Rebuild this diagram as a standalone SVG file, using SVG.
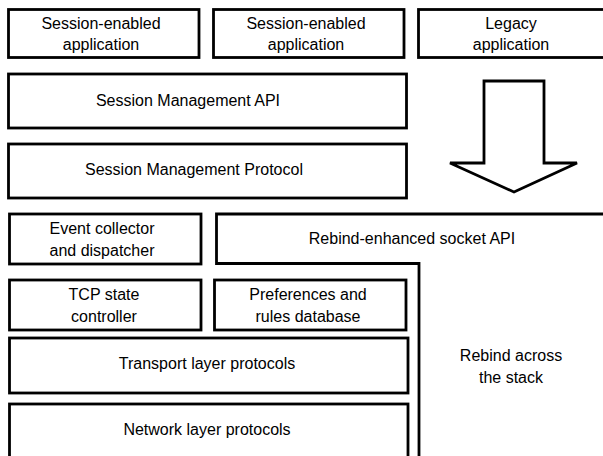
<svg xmlns="http://www.w3.org/2000/svg" width="603" height="456" viewBox="0 0 603 456">
<style>
  .box { fill: #fff; stroke: #000; stroke-width: 2.8; }
  .line { fill: none; stroke: #000; stroke-width: 2.8; }
  text { font-family: "Liberation Sans", Arial, sans-serif; font-size: 16px; fill: #000; text-anchor: middle; }
</style>
<rect width="603" height="456" fill="#fff"/>
<g id="app1">
  <rect class="box" x="8.5" y="9.5" width="190.5" height="48"/>
  <text x="101" y="28.5">Session-enabled</text>
  <text x="101" y="50">application</text>
</g>
<g id="app2">
  <rect class="box" x="213.5" y="9.5" width="190.5" height="48"/>
  <text x="306" y="28.5">Session-enabled</text>
  <text x="306" y="50">application</text>
</g>
<g id="legacy">
  <rect class="box" x="418.5" y="9.5" width="200" height="48"/>
  <text x="511" y="28.5">Legacy</text>
  <text x="511" y="50">application</text>
</g>
<g id="sm-api">
  <rect class="box" x="8.5" y="74" width="398" height="54"/>
  <text x="188" y="106">Session Management API</text>
</g>
<g id="sm-protocol">
  <rect class="box" x="8.5" y="144" width="398" height="54"/>
  <text x="194" y="175">Session Management Protocol</text>
</g>
<g id="arrow">
  <polygon class="box" points="484,81 544,81 544,163 577,163 514,192 450,163 484,163"/>
</g>
<g id="event">
  <rect class="box" x="9.5" y="214" width="191.5" height="50"/>
  <text x="102" y="233.5">Event collector</text>
  <text x="102" y="255.5">and dispatcher</text>
</g>
<g id="rebind-socket">
  <path class="line" d="M 610 214 H 216.5 V 263.5 H 419 V 462"/>
  <text x="412" y="243.5">Rebind-enhanced socket API</text>
  <text x="511" y="360.5">Rebind across</text>
  <text x="511" y="382.5">the stack</text>
</g>
<g id="tcp">
  <rect class="box" x="9.5" y="280" width="191.5" height="50"/>
  <text x="104" y="300">TCP state</text>
  <text x="104" y="322">controller</text>
</g>
<g id="prefs">
  <rect class="box" x="214.5" y="280" width="191.5" height="50"/>
  <text x="308" y="300">Preferences and</text>
  <text x="308" y="322">rules database</text>
</g>
<g id="transport">
  <rect class="box" x="9.5" y="338" width="398.5" height="55"/>
  <text x="207" y="368.5">Transport layer protocols</text>
</g>
<g id="network">
  <rect class="box" x="9.5" y="404" width="398.5" height="70"/>
  <text x="207" y="434.5">Network layer protocols</text>
</g>
<g id="connectors"></g>
</svg>
